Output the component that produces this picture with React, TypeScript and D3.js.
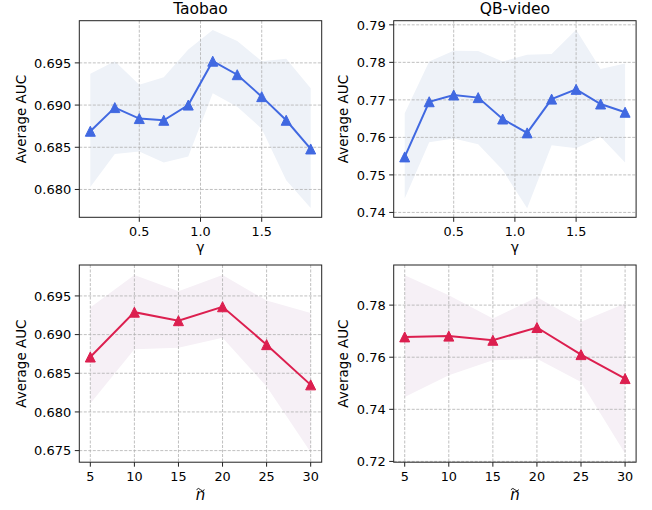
import * as d3 from "d3";

// ---- data ----
const gammaX = [0.1, 0.3, 0.5, 0.7, 0.9, 1.1, 1.3, 1.5, 1.7, 1.9];
const nX = [5, 10, 15, 20, 25, 30];

const taobaoGammaMean = [0.6869, 0.6897, 0.6884, 0.6882, 0.69, 0.6952, 0.6936, 0.691, 0.6882, 0.6848];
const taobaoGammaHigh = [0.6937, 0.6952, 0.6924, 0.6933, 0.6966, 0.6989, 0.6976, 0.6952, 0.6955, 0.692];
const taobaoGammaLow = [0.6803, 0.6842, 0.6845, 0.6832, 0.6839, 0.6914, 0.6898, 0.6872, 0.6811, 0.6778];

const qbGammaMean = [0.7548, 0.7695, 0.7713, 0.7706, 0.7649, 0.7612, 0.7702, 0.7728, 0.7689, 0.7667];
const qbGammaHigh = [0.7664, 0.7802, 0.7831, 0.783, 0.7802, 0.782, 0.7822, 0.7887, 0.7782, 0.7797];
const qbGammaLow = [0.7437, 0.7587, 0.7597, 0.7582, 0.7513, 0.7411, 0.7579, 0.7571, 0.7602, 0.7533];

const taobaoNMean = [0.6871, 0.6929, 0.6918, 0.6936, 0.6887, 0.6835];
const taobaoNHigh = [0.6935, 0.6977, 0.6956, 0.6977, 0.6944, 0.6928];
const taobaoNLow = [0.6811, 0.6881, 0.6883, 0.6896, 0.6833, 0.6748];

const qbNMean = [0.7678, 0.7681, 0.7665, 0.7714, 0.761, 0.7518];
const qbNHigh = [0.7915, 0.7838, 0.7749, 0.783, 0.7736, 0.7806];
const qbNLow = [0.7447, 0.7531, 0.7588, 0.7594, 0.7505, 0.723];

const gammaTicks = [0.5, 1.0, 1.5];
const nTicks = [5, 10, 15, 20, 25, 30];
const taobaoGammaYTicks = [0.68, 0.685, 0.69, 0.695];
const qbGammaYTicks = [0.74, 0.75, 0.76, 0.77, 0.78, 0.79];
const taobaoNYTicks = [0.675, 0.68, 0.685, 0.69, 0.695];
const qbNYTicks = [0.72, 0.74, 0.76, 0.78];

const BLUE = "#4169e1";
const BLUE_FILL = "#eef2f8";
const RED = "#dc1f4f";
const RED_FILL = "#f6f0f6";
const FONT = "DejaVu Sans, sans-serif";

type PanelProps = {
  left: number; top: number; width: number; height: number;
  xs: number[]; mean: number[]; hi: number[]; lo: number[];
  xDomain: [number, number]; yDomain: [number, number];
  xTicks: number[]; yTicks: number[];
  xFmt: (v: number) => string; yFmt: (v: number) => string;
  color: string; fill: string;
  title?: string; xLabel: "gamma" | "n"; yLabelX: number;
};

function Panel(p: PanelProps) {
  const x = d3.scaleLinear().domain(p.xDomain).range([p.left, p.left + p.width]);
  const y = d3.scaleLinear().domain(p.yDomain).range([p.top + p.height, p.top]);
  const pts = p.xs.map((v, i) => ({ x: v, m: p.mean[i], h: p.hi[i], l: p.lo[i] }));
  const area = d3.area<typeof pts[0]>().x(d => x(d.x)).y0(d => y(d.l)).y1(d => y(d.h));
  const line = d3.line<typeof pts[0]>().x(d => x(d.x)).y(d => y(d.m));
  const bottom = p.top + p.height;
  const cx = p.left + p.width / 2;
  const clipId = `clip${Math.round(p.left)}_${Math.round(p.top)}`;
  const tri = (px: number, py: number) => `M${px},${py - 5}L${px + 5},${py + 5}L${px - 5},${py + 5}Z`;
  return (
    <g>
      <clipPath id={clipId}>
        <rect x={p.left} y={p.top} width={p.width} height={p.height} />
      </clipPath>
      <path d={area(pts) ?? ""} fill={p.fill} clipPath={`url(#${clipId})`} />
      {p.xTicks.map(t => (
        <line key={"gx" + t} x1={x(t)} x2={x(t)} y1={p.top} y2={bottom}
          stroke="#b0b0b0" strokeWidth={0.8} strokeDasharray="3,1.5" />
      ))}
      {p.yTicks.map(t => (
        <line key={"gy" + t} x1={p.left} x2={p.left + p.width} y1={y(t)} y2={y(t)}
          stroke="#b0b0b0" strokeWidth={0.8} strokeDasharray="3,1.5" />
      ))}
      <path d={line(pts) ?? ""} fill="none" stroke={p.color} strokeWidth={2} />
      {pts.map((d, i) => (
        <path key={i} d={tri(x(d.x), y(d.m))} fill={p.color} stroke={p.color} strokeWidth={1} />
      ))}
      <rect x={p.left} y={p.top} width={p.width} height={p.height} fill="none" stroke="#222" strokeWidth={1} />
      {p.xTicks.map(t => (
        <g key={"tx" + t}>
          <line x1={x(t)} x2={x(t)} y1={bottom} y2={bottom + 4.5} stroke="#222" strokeWidth={1} />
          <text x={x(t)} y={bottom + 18.5} textAnchor="middle" fontSize={12.8} fontFamily={FONT} fill="#000">{p.xFmt(t)}</text>
        </g>
      ))}
      {p.yTicks.map(t => (
        <g key={"ty" + t}>
          <line x1={p.left - 4.5} x2={p.left} y1={y(t)} y2={y(t)} stroke="#222" strokeWidth={1} />
          <text x={p.left - 8} y={y(t)} dy="0.36em" textAnchor="end" fontSize={13} fontFamily={FONT} fill="#000">{p.yFmt(t)}</text>
        </g>
      ))}
      <text transform={`translate(${p.yLabelX},${p.top + p.height / 2}) rotate(-90)`} textAnchor="middle"
        fontSize={13.5} fontFamily={FONT} fill="#000">Average AUC</text>
      {p.title && (
        <text x={cx} y={14} textAnchor="middle" fontSize={15.5} fontFamily={FONT} fill="#000">{p.title}</text>
      )}
      {p.xLabel === "gamma" ? (
        <text x={cx} y={bottom + 35} textAnchor="middle" fontSize={14} fontFamily={FONT} fill="#000">γ</text>
      ) : (
        <g>
          <text x={cx} y={bottom + 38} textAnchor="middle" fontSize={15} fontStyle="italic" fontFamily={FONT} fill="#000">n</text>
          <path d={`M${cx - 4},${bottom + 27.5} q2,-2.5 4,0 t4,0`} fill="none" stroke="#000" strokeWidth={0.9} />
        </g>
      )}
    </g>
  );
}

export default function App() {
  const f3 = d3.format(".3f");
  const f2 = d3.format(".2f");
  const f1 = d3.format(".1f");
  const fd = d3.format("d");
  const L1 = 79.3, L2 = 393.7, W = 242.4;
  const T1 = 20.7, H1 = 196.6, T2 = 265, H2 = 197.2;
  return (
    <svg width={652} height={510} style={{ position: "absolute", left: 0, top: 0, background: "#fff" }}>
      <Panel left={L1} top={T1} width={W} height={H1} xs={gammaX} mean={taobaoGammaMean} hi={taobaoGammaHigh} lo={taobaoGammaLow}
        xDomain={[0.01, 1.99]} yDomain={[0.6767, 0.7]} xTicks={gammaTicks} yTicks={taobaoGammaYTicks}
        xFmt={f1} yFmt={f3} color={BLUE} fill={BLUE_FILL} title="Taobao" xLabel="gamma" yLabelX={26} />
      <Panel left={L2} top={T1} width={W} height={H1} xs={gammaX} mean={qbGammaMean} hi={qbGammaHigh} lo={qbGammaLow}
        xDomain={[0.01, 1.99]} yDomain={[0.7387, 0.7911]} xTicks={gammaTicks} yTicks={qbGammaYTicks}
        xFmt={f1} yFmt={f2} color={BLUE} fill={BLUE_FILL} title="QB-video" xLabel="gamma" yLabelX={348} />
      <Panel left={L1} top={T2} width={W} height={H2} xs={nX} mean={taobaoNMean} hi={taobaoNHigh} lo={taobaoNLow}
        xDomain={[3.75, 31.25]} yDomain={[0.6735, 0.699]} xTicks={nTicks} yTicks={taobaoNYTicks}
        xFmt={fd} yFmt={f3} color={RED} fill={RED_FILL} xLabel="n" yLabelX={26} />
      <Panel left={L2} top={T2} width={W} height={H2} xs={nX} mean={qbNMean} hi={qbNHigh} lo={qbNLow}
        xDomain={[3.75, 31.25]} yDomain={[0.7197, 0.7954]} xTicks={nTicks} yTicks={qbNYTicks}
        xFmt={fd} yFmt={f2} color={RED} fill={RED_FILL} xLabel="n" yLabelX={348} />
    </svg>
  );
}
